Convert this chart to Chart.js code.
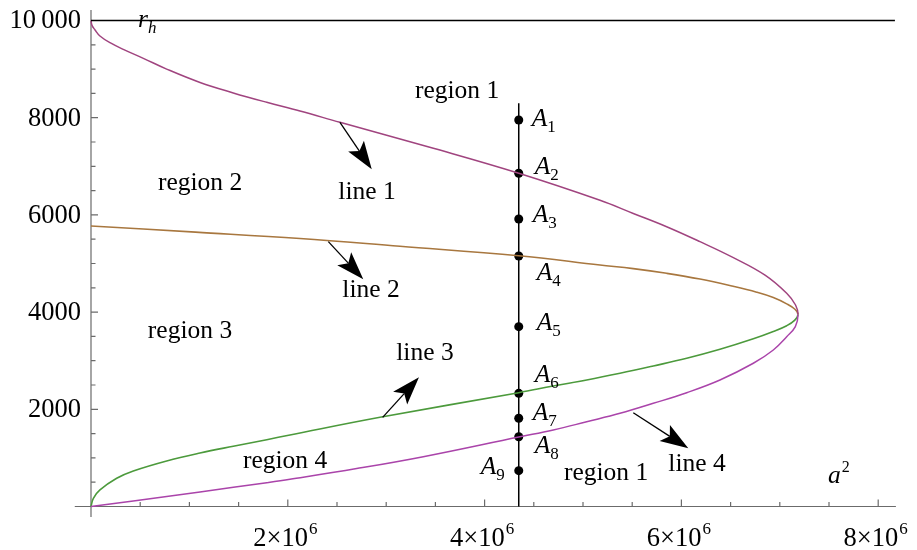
<!DOCTYPE html>
<html>
<head>
<meta charset="utf-8">
<script src="https://cdn.jsdelivr.net/npm/chart.js@4.4.1/dist/chart.umd.min.js"></script>
<style>
  html, body { margin: 0; padding: 0; background: #fff; }
  #wrap { width: 917px; height: 550px; position: relative; }
</style>
</head>
<body>
<div id="wrap"><canvas id="c"></canvas></div>
<script>
// a^2 is kept in units of 10^6, r in plain units

// line 1: upper magenta branch, from r_h down to the nose
const line1A2 = [0, 0.01, 0.041, 0.091, 0.193, 0.328, 0.532, 0.769, 1.108, 1.446, 1.786, 2.124, 2.530, 3.479, 4.347, 5.173, 5.511, 5.850, 6.189, 6.528, 6.850, 7.070, 7.160, 7.185];
const line1R  = [10000, 9900, 9805, 9681, 9543, 9407, 9222, 9000, 8725, 8510, 8317, 8138, 7905, 7370, 6856, 6300, 6030, 5757, 5449, 5120, 4760, 4387, 4146, 3950];

// line 4: lower magenta branch, from the nose back to the origin
const line4A2 = [7.158, 7.070, 6.934, 6.731, 6.392, 6.054, 5.714, 5.376, 5.038, 4.698, 4.347, 3.377, 2.700, 2.022, 1.786, 1.108, 0.430, 0];
const line4R  = [3700, 3494, 3220, 2947, 2603, 2342, 2123, 1918, 1745, 1574, 1430, 1025, 780, 560, 490, 300, 115, 0];

// line 2: brown branch, from the r axis to the nose
const line2A2 = [0, 1.062, 2.124, 3.140, 4.347, 5.173, 5.511, 5.850, 6.189, 6.528, 6.765, 6.934, 7.070, 7.154, 7.185];
const line2R  = [5772, 5645, 5514, 5354, 5160, 4969, 4895, 4798, 4680, 4530, 4410, 4300, 4170, 4058, 3950];

// line 3: green branch, from the nose to the origin
const line3A2 = [7.150, 7.070, 6.934, 6.731, 6.392, 6.054, 5.714, 5.376, 5.038, 4.698, 4.347, 2.937, 2.022, 1.786, 1.446, 1.108, 0.769, 0.430, 0.261, 0.091, 0.024, 0];
const line3R  = [3830, 3720, 3600, 3450, 3234, 3049, 2891, 2741, 2603, 2479, 2342, 1835, 1471, 1375, 1240, 1100, 936, 730, 580, 340, 169, 0];

// the vertical cut and the points A1..A9 on it
const cutA2 = 4.347;
const cutR = [0, 8296];
const pointNames = ['1', '2', '3', '4', '5', '6', '7', '8', '9'];
const pointR = [7953, 6856, 5916, 5154, 3700, 2329, 1815, 1436, 737];

// horizon r_h
const horizonR = 10000;
const horizonA2 = [0, 8.17];

// ticks
const xMajorTicks = [2, 4, 6, 8];
const xMinorTicks = [0.5, 1, 1.5, 2.5, 3, 3.5, 4.5, 5, 5.5, 6.5, 7, 7.5];
const yMajorTicks = [2000, 4000, 6000, 8000, 10000];
const yTickLabels = ['2000', '4000', '6000', '8000', '10\u2009000'];
const yMinorTicks = [500, 1000, 1500, 2500, 3000, 3500, 4500, 5000, 5500, 6500, 7000, 7500, 8500, 9000, 9500];

// text labels (centre in data units)
const labelText = ['region 1', 'region 2', 'region 3', 'region 4', 'region 1', 'line 1', 'line 2', 'line 3', 'line 4'];
const labelA2 = [3.720, 1.108, 1.006, 1.972, 5.234, 2.805, 2.846, 3.394, 6.159];
const labelR  = [8549, 6656, 3611, 936, 689, 6471, 4455, 3158, 874];

// arrows: from (a2, r) to (a2, r)
const arrowFromA2 = [2.530, 2.412, 2.964, 5.511];
const arrowFromR  = [7905, 5449, 1835, 1930];
const arrowToA2   = [2.853, 2.767, 3.333, 6.070];
const arrowToR    = [6938, 4675, 2658, 1198];

const PX_PER_A2 = 98.4, PX_PER_R = 0.0486;
const X0 = 91, Y0 = 506.5, W = 917, H = 550;

const font = '"Liberation Serif", "Times New Roman", serif';
const ptLabelOffset = [[13, -2], [16, -8], [14, -5], [18, 15], [18, -5], [16, -20], [14, -7], [16, 8], [-38, -5]];

const pts = (xs, ys) => xs.map((v, i) => ({ x: v, y: ys[i] }));

const magenta = pts(line1A2, line1R).concat(pts(line4A2, line4R));
const brownGreen = pts(line2A2, line2R).concat(pts(line3A2, line3R));
const nose1 = line1A2.length - 1;
const nose2 = line2A2.length - 1;

const decor = {
  id: 'decor',
  beforeDatasetsDraw(chart) {
    const { ctx, scales: { x, y } } = chart;
    const px = v => x.getPixelForValue(v), py = v => y.getPixelForValue(v);
    ctx.save();
    ctx.strokeStyle = '#6b6b6b';
    ctx.lineWidth = 1.2;
    ctx.beginPath();
    ctx.moveTo(px(-0.165), py(0)); ctx.lineTo(px(8.18), py(0));
    ctx.moveTo(px(0), py(-215)); ctx.lineTo(px(0), py(10215));
    xMajorTicks.forEach(v => { ctx.moveTo(px(v), py(0)); ctx.lineTo(px(v), py(0) - 7); });
    xMinorTicks.forEach(v => { ctx.moveTo(px(v), py(0)); ctx.lineTo(px(v), py(0) - 4.5); });
    yMajorTicks.forEach(v => { ctx.moveTo(px(0), py(v)); ctx.lineTo(px(0) + 7, py(v)); });
    yMinorTicks.forEach(v => { ctx.moveTo(px(0), py(v)); ctx.lineTo(px(0) + 4.5, py(v)); });
    ctx.stroke();

    ctx.fillStyle = '#000';
    ctx.font = '26.5px ' + font;
    ctx.textAlign = 'right';
    ctx.textBaseline = 'middle';
    yMajorTicks.forEach((v, i) => ctx.fillText(yTickLabels[i], px(0) - 10, py(v) + 1));

    ctx.textBaseline = 'alphabetic';
    xMajorTicks.forEach(v => {
      const main = v + '\u00d710';
      ctx.font = '26.5px ' + font;
      const w1 = ctx.measureText(main).width;
      ctx.font = '17px ' + font;
      const w2 = ctx.measureText('6').width;
      const left = px(v) - (w1 + w2) / 2 - 3;
      ctx.textAlign = 'left';
      ctx.font = '26.5px ' + font;
      ctx.fillText(main, left, 546);
      ctx.font = '17px ' + font;
      ctx.fillText('6', left + w1 + 1, 534);
    });
    ctx.restore();
  },
  afterDatasetsDraw(chart) {
    const { ctx, scales: { x, y } } = chart;
    const px = v => x.getPixelForValue(v), py = v => y.getPixelForValue(v);
    ctx.save();
    ctx.fillStyle = '#000';
    ctx.strokeStyle = '#000';

    // arrows
    arrowFromA2.forEach((_, i) => {
      const x1 = px(arrowFromA2[i]), y1 = py(arrowFromR[i]);
      const x2 = px(arrowToA2[i]), y2 = py(arrowToR[i]);
      const dx = x2 - x1, dy = y2 - y1, len = Math.hypot(dx, dy);
      const ux = dx / len, uy = dy / len, nx = -uy, ny = ux;
      const L = 28, hw = 9.5, notch = 6;
      ctx.lineWidth = 1.3;
      ctx.beginPath();
      ctx.moveTo(x1, y1);
      ctx.lineTo(x2 - ux * (L - notch), y2 - uy * (L - notch));
      ctx.stroke();
      ctx.beginPath();
      ctx.moveTo(x2, y2);
      ctx.lineTo(x2 - ux * L + nx * hw, y2 - uy * L + ny * hw);
      ctx.lineTo(x2 - ux * (L - notch), y2 - uy * (L - notch));
      ctx.lineTo(x2 - ux * L - nx * hw, y2 - uy * L - ny * hw);
      ctx.closePath();
      ctx.fill();
    });

    // region / line labels
    ctx.font = '25.5px ' + font;
    ctx.textAlign = 'center';
    ctx.textBaseline = 'middle';
    labelText.forEach((t, i) => ctx.fillText(t, px(labelA2[i]), py(labelR[i])));

    // point labels A_n
    ctx.textAlign = 'left';
    ctx.textBaseline = 'alphabetic';
    pointR.forEach((r, i) => {
      const lx = px(cutA2) + ptLabelOffset[i][0];
      const ly = py(r) + ptLabelOffset[i][1] + 8.5;
      ctx.font = 'italic 25.5px ' + font;
      ctx.fillText('A', lx, ly);
      const wa = ctx.measureText('A').width;
      ctx.font = '17px ' + font;
      ctx.fillText(pointNames[i], lx + wa, ly + 6);
    });

    // axis names
    ctx.font = 'italic 25.5px ' + font;
    const rx = px(0.478), ry = py(9866);
    ctx.fillText('r', rx, ry);
    const wr = ctx.measureText('r').width;
    ctx.font = 'italic 17px ' + font;
    ctx.fillText('h', rx + wr, ry + 6);

    ctx.font = 'italic 25.5px ' + font;
    const ax = px(7.490), ay = py(485);
    ctx.fillText('a', ax, ay);
    const wa = ctx.measureText('a').width;
    ctx.font = '16px ' + font;
    ctx.fillText('2', ax + wa + 1, ay - 11);
    ctx.restore();
  }
};

new Chart(document.getElementById('c'), {
  type: 'scatter',
  data: {
    datasets: [
      {
        data: pts(horizonA2, horizonA2.map(() => horizonR)),
        showLine: true, borderColor: '#000', borderWidth: 1.4, pointRadius: 0, tension: 0
      },
      {
        data: magenta,
        showLine: true, borderWidth: 1.5, pointRadius: 0, tension: 0.4,
        borderColor: '#a0447f',
        segment: { borderColor: c => c.p0DataIndex < nose1 ? '#a0447f' : '#aa44aa' }
      },
      {
        data: brownGreen,
        showLine: true, borderWidth: 1.6, pointRadius: 0, tension: 0.4,
        borderColor: '#a8773f',
        segment: { borderColor: c => c.p0DataIndex < nose2 ? '#a8773f' : '#4c9a3c' }
      },
      {
        data: pts(cutR.map(() => cutA2), cutR),
        showLine: true, borderColor: '#000', borderWidth: 1.5, pointRadius: 0, tension: 0
      },
      {
        data: pts(pointR.map(() => cutA2), pointR),
        showLine: false, pointRadius: 4.5, pointBackgroundColor: '#000', pointBorderColor: '#000', pointBorderWidth: 0
      }
    ]
  },
  options: {
    responsive: true,
    maintainAspectRatio: false,
    animation: false,
    events: [],
    layout: { padding: 0, autoPadding: false },
    plugins: { legend: { display: false }, tooltip: { enabled: false } },
    scales: {
      x: { type: 'linear', display: false, min: -X0 / PX_PER_A2, max: (W - X0) / PX_PER_A2 },
      y: { type: 'linear', display: false, min: -(H - Y0) / PX_PER_R, max: 10000 + (Y0 - 486) / PX_PER_R }
    }
  },
  plugins: [decor]
});
</script>
</body>
</html>
